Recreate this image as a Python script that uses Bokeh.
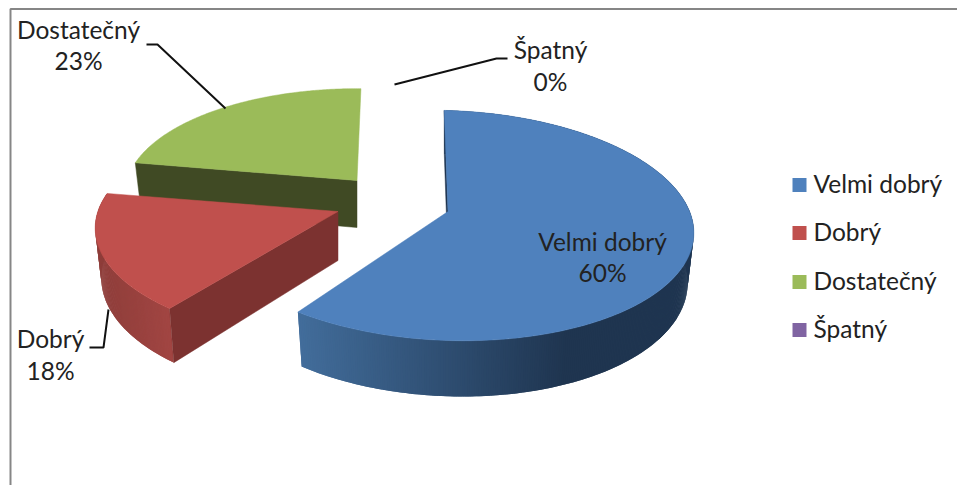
import math
from bokeh.plotting import figure
from bokeh.models import Range1d
from bokeh.core.properties import value
from bokeh.embed import file_html
from bokeh.resources import INLINE

# ---- data
categories = ["Velmi dobrý", "Dobrý", "Dostatečný", "Špatný"]
shares = [59.6, 17.9, 22.5, 0.0]
percent_labels = ["60%", "18%", "23%", "0%"]

# ---- styles and layout
W, H = 957, 485
FONT = "Lato"
FONT_SIZE = "24.5px"
TEXT_COLOR = "#222222"
TEXT_SHIFT = -9
top_colors = ["#4f81bd", "#c0504d", "#9bbb59", "#8064a2"]
cut_colors = ["#1f3550", "#7c3230", "#404a24", "#4a3a60"]
wall_ramp = [(298, "#426d9b", 567, "#1f3550"), (96, "#8e3d3a", 175, "#a34643"), None, None]
# apex x, apex y, half width, half height, wall height, rotation (deg), ring y offset, ring skew,
# trim of the arc's start and end (deg)
slice_geom = [
    (447.5, 211, 244, 113.3, 49, -1.0, 0, 0.03, 0, 0),
    (337.5, 211, 241, 110.0, 49, 3.0, 3, 0.0, 1.7, 0.7),
    (356.5, 180, 230, 103.0, 47, 1.1, 0, 0.0, 0, 0),
    (447.5, 211, 244, 113.3, 49, 0.0, 0, 0.0, 0, 0),
]
PERSPECTIVE = -0.1217
BASE_SHRINK = 0.975

label_pos = [(602, 250, 281), (50, 347, 379), (78, 38, 69), (550, 58, 90)]
leaders = [
    [(89, 347), (103, 347), (108, 309)],
    [(146, 44), (157, 44), (225, 108)],
    [(394, 84), (496, 58), (507, 58)],
]
legend_square_x = 792
legend_text_x = 813
legend_base = [192, 240, 289, 337]
LEGEND_SIZE = 14


def hex_rgb(c):
    return tuple(int(c[i:i + 2], 16) for i in (1, 3, 5))


def mix(a, b, f):
    f = max(0.0, min(1.0, f))
    ra, rb = hex_rgb(a), hex_rgb(b)
    return "#%02x%02x%02x" % tuple(round(ra[i] + (rb[i] - ra[i]) * f) for i in range(3))


def ring(t_deg, geom):
    ax, ay, b, a, depth, _, dy, skew = geom[:8]
    t = math.radians(t_deg)
    u = -math.cos(t)
    den = 1 + PERSPECTIVE * u
    x = ax + b * math.sin(t) / den
    y = ay + a * u / den + dy + skew * (x - ax)
    return x, y, ax + (x - ax) * BASE_SHRINK, y + depth / den


def arc(t0, t1):
    n = max(2, int(abs(t1 - t0)) * 2)
    return [t0 + (t1 - t0) * i / n for i in range(n + 1)]


p = figure(width=W, height=H, output_backend="svg", toolbar_location=None,
           x_range=Range1d(0, W), y_range=Range1d(H, 0),
           min_border=0, outline_line_color=None, background_fill_color="white",
           border_fill_color="white")
p.xaxis.visible = False
p.yaxis.visible = False
p.grid.visible = False

# chart frame (left and top only)
p.line([10, 10, W], [H, 8.5, 8.5], line_color="#868686", line_width=2)

total = sum(shares)
spans = []
acc = 0.0
for s in shares:
    spans.append((acc, acc + s / total * 360))
    acc += s / total * 360

# back to front: last slice first
for i in [2, 1, 0]:
    g = slice_geom[i]
    t0, t1 = spans[i][0] + g[5] + g[8], spans[i][1] + g[5] - g[9]
    ax, ay, depth = g[0], g[1], g[4]

    # outer wall as overlapping strips, so that no seams show
    ramp = wall_ramp[i]
    if ramp:
        ts = arc(t0, t1)
        for j in range(len(ts) - 1):
            a0, a1 = ts[j], ts[min(j + 2, len(ts) - 1)]
            x0, y0, bx0, by0 = ring(a0, g)
            x1, y1, bx1, by1 = ring(a1, g)
            col = mix(ramp[1], ramp[3], (x0 - ramp[0]) / (ramp[2] - ramp[0]))
            p.patch([x0, x1, bx1, bx0], [y0, y1, by1, by0], fill_color=col, line_color=None)

    # cut wall at the leading edge
    x, y, bx, by = ring(t0, g)
    p.patch([ax, x, bx, ax], [ay, y, by, ay + depth], fill_color=cut_colors[i],
            line_color=cut_colors[i], line_width=0.5)

    # top surface
    pts = [ring(t, g) for t in arc(t0, t1)]
    p.patch([ax] + [q[0] for q in pts], [ay] + [q[1] for q in pts],
            fill_color=top_colors[i], line_color=top_colors[i], line_width=0.5)

# leader lines
for pts in leaders:
    p.line([q[0] for q in pts], [q[1] for q in pts], line_color="#111111", line_width=2)

# data labels
for (cx, y1, y2), cat, lab in zip(label_pos, categories, percent_labels):
    p.text([cx, cx], [y1 + TEXT_SHIFT, y2 + TEXT_SHIFT], text=[cat, lab], text_align="center",
           text_baseline="alphabetic",
           text_font=value(FONT), text_font_size=FONT_SIZE, text_color=TEXT_COLOR)

# legend
for cat, col, base in zip(categories, top_colors, legend_base):
    p.quad(left=legend_square_x, right=legend_square_x + LEGEND_SIZE,
           top=base - LEGEND_SIZE - 0.5, bottom=base - 0.5, fill_color=col, line_color=None)
    p.text([legend_text_x], [base + TEXT_SHIFT], text=[cat], text_align="left",
           text_baseline="alphabetic",
           text_font=value(FONT), text_font_size=FONT_SIZE, text_color=TEXT_COLOR)

open("out.html", "w").write(file_html(p, INLINE))
